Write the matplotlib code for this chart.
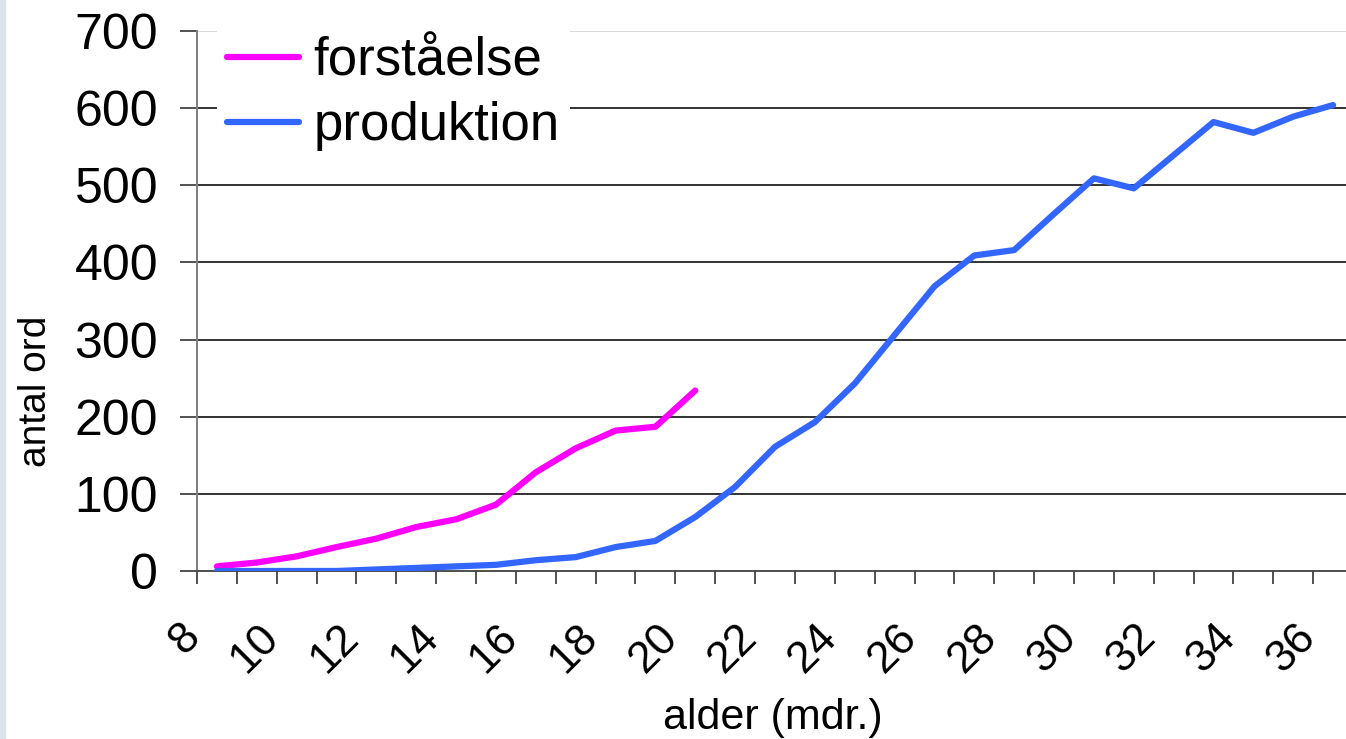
import numpy as np
import matplotlib
matplotlib.use("Agg")
import matplotlib.pyplot as plt
import matplotlib.transforms as mtransforms
from matplotlib.patches import Rectangle

plt.rcParams['font.family'] = ['Liberation Sans', 'DejaVu Sans']

# alder i maaneder (kategorier)
ages = list(range(8, 37))
# forstaaelse: 8-20 mdr.
forstaaelse = [6, 11, 19, 31, 42, 57, 67, 86, 128, 159, 182, 187, 234]
# produktion: 8-36 mdr.
produktion = [0, 0, 0, 0, 2, 4, 6, 8, 14, 18, 31, 39, 70, 109, 161, 193,
              243, 306, 369, 409, 416, 463, 509, 496, 539, 582, 568, 589, 604]
tick_labels = [str(a) for a in ages[::2]]
y_ticks = [0, 100, 200, 300, 400, 500, 600, 700]

W, H = 1346, 739
fig = plt.figure(figsize=(W / 100, H / 100), dpi=100)
fig.patches.append(Rectangle((0, 0), 5 / W, 1, transform=fig.transFigure,
                             color='#dde3ea', zorder=0))

ax = fig.add_axes([197 / W, 1 - 571 / H, 1156 / W, 540 / H])
ax.set_xlim(ages[0] - 0.5, ages[-1] + 0.5)
ax.set_ylim(0, 700)

# grid
for yv in y_ticks[1:]:
    col = '#d8d8d8' if yv == 700 else '#222222'
    ax.axhline(yv, color=col, lw=1.3, zorder=1)

ax.plot(ages[:len(forstaaelse)], forstaaelse, color='#ff00ff', lw=4.5,
        solid_capstyle='round', label='forståelse', zorder=3)
ax.plot(ages, produktion, color='#3366ff', lw=4.5,
        solid_capstyle='round', label='produktion', zorder=3)

for s in ['top', 'right']:
    ax.spines[s].set_visible(False)
ax.spines['left'].set_color('#808080')
ax.spines['left'].set_linewidth(1.5)
ax.spines['bottom'].set_color('#404040')
ax.spines['bottom'].set_linewidth(1.3)

ax.set_yticks(y_ticks)
ax.tick_params(axis='y', direction='out', length=12, width=1.2,
               color='#333333', labelsize=36, pad=16)

# tick marks at category boundaries, labels on every other category
ax.set_xticks(np.arange(ages[0] - 0.5, ages[-1] + 1.0, 1.0))
ax.tick_params(axis='x', which='major', direction='out', length=9.5,
               width=1.2, color='#333333', labelbottom=False)
ax.set_xticks(ages[::2], minor=True)
ax.set_xticklabels(tick_labels, minor=True)
ax.tick_params(axis='x', which='minor', length=0, labelsize=32, pad=43)
offset = mtransforms.ScaledTranslation(-24 / 100, 0, fig.dpi_scale_trans)
for lab in ax.get_xticklabels(minor=True):
    lab.set_rotation(45)
    lab.set_rotation_mode('anchor')
    lab.set_ha('right')
    lab.set_va('center')
    lab.set_transform(lab.get_transform() + offset)

ax.set_ylabel('antal ord', fontsize=28, va='center')
ax.yaxis.set_label_coords(-0.1393, 0.333)
ax.set_xlabel('alder (mdr.)', fontsize=31, va='center')
ax.xaxis.set_label_coords(0.498, -0.272)

leg = ax.legend(loc='upper left', bbox_to_anchor=(0.017, 1.0097), fontsize=38,
                frameon=True, fancybox=False, edgecolor='none',
                facecolor='white', framealpha=1, handlelength=1.36,
                handletextpad=0.27, labelspacing=0.28, borderpad=0.2,
                borderaxespad=0)
leg.set_zorder(5)

fig.savefig('out.png', dpi=100)
